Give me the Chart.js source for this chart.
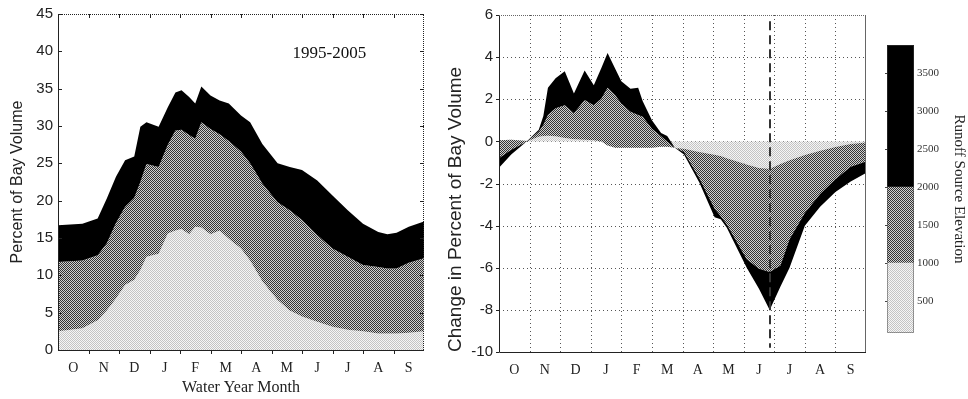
<!DOCTYPE html>
<html>
<head>
<meta charset="utf-8">
<script src="https://cdn.jsdelivr.net/npm/chart.js@4.4.0/dist/chart.umd.min.js"></script>
<style>
  html, body { margin: 0; padding: 0; background: #fff; }
  body { width: 968px; height: 399px; position: relative; overflow: hidden; }
  .panel { position: absolute; top: 0; }
</style>
</head>
<body>
<div class="panel" style="left:0px"><canvas id="volumeChart" width="440" height="399"></canvas></div>
<div class="panel" style="left:430px"><canvas id="changeChart" width="450" height="399"></canvas></div>
<div class="panel" style="left:880px"><canvas id="elevBar" width="88" height="399"></canvas></div>
<script>
const monthLabels = ["O", "N", "D", "J", "F", "M", "A", "M", "J", "J", "A", "S"];

// left panel: percent of bay volume, top edge of each elevation band (cumulative)
const volMonths = [0, 0.8, 1.3, 1.6, 1.9, 2.2, 2.5, 2.7, 2.9, 3.3, 3.6, 3.85, 4.05, 4.3, 4.5, 4.7, 5.0,
  5.3, 5.6, 6.0, 6.3, 6.7, 7.2, 7.6, 8.0, 8.5, 9.0, 9.5, 10.0, 10.5, 10.8, 11.1, 11.5, 12];
const volLow = [2.5, 2.9, 4.0, 5.3, 6.9, 8.7, 9.4, 10.7, 12.5, 12.9, 15.6, 16.0, 16.2, 15.5, 16.5, 16.4, 15.5,
  16.0, 14.9, 13.6, 12.0, 9.2, 6.7, 5.3, 4.5, 3.8, 3.1, 2.7, 2.5, 2.2, 2.2, 2.2, 2.3, 2.5];
const volLowMid = [11.8, 12.0, 12.7, 14.3, 17.0, 19.2, 20.4, 22.5, 24.9, 24.5, 27.5, 29.4, 29.5, 28.8, 28.3, 30.5, 29.6,
  28.9, 28.0, 26.6, 25.0, 22.3, 19.8, 18.7, 17.4, 15.4, 13.6, 12.5, 11.4, 11.1, 10.9, 10.9, 11.7, 12.3];
const volAll = [16.7, 16.9, 17.6, 20.3, 23.2, 25.4, 25.9, 29.9, 30.5, 29.9, 32.5, 34.5, 34.8, 33.9, 33.0, 35.3, 34.1,
  33.4, 33.0, 31.4, 30.5, 27.6, 25.0, 24.5, 24.1, 22.7, 20.7, 18.7, 16.9, 15.8, 15.5, 15.7, 16.5, 17.2];
const periodLabel = "1995-2005";

// right panel: change in percent of bay volume (cumulative from the lowest band)
const chgMonths = [0, 0.4, 0.95, 1.3, 1.45, 1.6, 1.85, 2.15, 2.45, 2.8, 3.1, 3.35, 3.55, 3.8, 4.0, 4.3, 4.55, 4.7,
  5.0, 5.3, 5.5, 5.75, 6.05, 6.55, 7.05, 7.25, 7.45, 8.1, 8.5, 8.85, 9.2, 9.5, 10.0, 10.5, 11.0, 11.5, 12];
const chgLow = [0.05, 0.08, 0.02, 0.22, 0.25, 0.27, 0.24, 0.16, 0.1, 0.08, 0.05, 0.0, -0.2, -0.3, -0.3, -0.3, -0.3, -0.3,
  -0.3, -0.25, -0.25, -0.3, -0.35, -0.5, -0.64, -0.7, -0.8, -1.1, -1.26, -1.3, -1.08, -0.9, -0.65, -0.45, -0.27, -0.13, -0.05];
const chgLowMid = [-0.8, -0.4, 0.02, 0.47, 0.78, 1.25, 1.57, 1.72, 1.33, 1.96, 1.72, 2.04, 2.55, 2.19, 1.8, 1.41, 1.25, 1.17,
  0.6, 0.24, 0.0, -0.3, -0.5, -1.75, -3.2, -3.55, -3.95, -5.6, -6.05, -6.2, -5.9, -4.65, -3.4, -2.5, -1.8, -1.2, -0.95];
const chgAll = [-1.25, -0.62, 0.05, 0.55, 1.2, 2.55, 3.0, 3.33, 2.27, 3.37, 2.66, 3.5, 4.2, 3.45, 2.86, 2.5, 2.55, 1.9,
  1.0, 0.4, 0.25, -0.3, -0.62, -1.95, -3.6, -3.7, -4.1, -6.0, -7.0, -8.0, -6.9, -6.0, -4.0, -3.1, -2.4, -1.9, -1.5];
const peakMonth = 8.85;

// colour bar: runoff source elevation (m)
const elevTicks = [500, 1000, 1500, 2000, 2500, 3000, 3500];
const elevBands = [[80, 1000], [1000, 2000], [2000, 3870]];

const SANS = "'Liberation Sans', Arial, sans-serif";
const SERIF = "'Liberation Serif', 'Times New Roman', serif";
Chart.defaults.color = "#222";
Chart.defaults.font.family = SANS;

// dithered fills like the original
function makePattern(a, b) {
  const c = document.createElement("canvas");
  c.width = 2; c.height = 2;
  const g = c.getContext("2d");
  g.fillStyle = b; g.fillRect(0, 0, 2, 2);
  g.fillStyle = a; g.fillRect(0, 0, 1, 1); g.fillRect(1, 1, 1, 1);
  return g.createPattern(c, "repeat");
}
const lightFill = makePattern("#c4c4c4", "#f6f6f6");
const grayFill = makePattern("#333333", "#d0d0d0");
const darkFill = "#000000";

function pts(xs, ys) {
  return xs.map((m, i) => ({ x: m, y: ys[i] }));
}

function band(data, fill, bg, order) {
  return {
    data: data, fill: fill, backgroundColor: bg, borderWidth: 0,
    pointRadius: 0, tension: 0, order: order
  };
}

function monthAxis(titleText) {
  return {
    type: "linear", min: 0, max: 12,
    afterBuildTicks: s => { s.ticks = monthLabels.map((_, i) => ({ value: i + 0.5 })); },
    afterFit: s => { s.height = titleText ? 49 : 47; },
    grid: { display: false, drawTicks: false },
    border: { display: false },
    ticks: {
      autoSkip: false, maxRotation: 0, padding: 10,
      font: { family: SERIF, size: 14 },
      callback: (v, i) => monthLabels[i]
    },
    title: {
      display: !!titleText, text: titleText,
      font: { family: SERIF, size: 16 }, padding: { top: 0, bottom: 2 }
    }
  };
}

const volumeFrame = {
  id: "volumeFrame",
  afterDraw(chart) {
    const { ctx, chartArea: a, scales: { x, y } } = chart;
    ctx.save();
    ctx.strokeStyle = "#222";
    ctx.lineWidth = 1;
    ctx.beginPath();
    ctx.moveTo(a.left + 0.5, a.top);
    ctx.lineTo(a.left + 0.5, a.bottom + 0.5);
    ctx.lineTo(a.right, a.bottom + 0.5);
    ctx.stroke();
    ctx.setLineDash([1, 1]);
    ctx.beginPath();
    ctx.moveTo(a.left, a.top + 0.5);
    ctx.lineTo(a.right - 0.5, a.top + 0.5);
    ctx.lineTo(a.right - 0.5, a.bottom);
    ctx.stroke();
    ctx.setLineDash([]);
    ctx.beginPath();
    y.ticks.forEach(t => {
      const py = Math.round(y.getPixelForValue(t.value)) + 0.5;
      ctx.moveTo(a.left, py); ctx.lineTo(a.left + 4, py);
      ctx.moveTo(a.right - 4, py); ctx.lineTo(a.right, py);
    });
    for (let k = 1; k < 12; k++) {
      const px = Math.round(x.getPixelForValue(k)) + 0.5;
      ctx.moveTo(px, a.bottom); ctx.lineTo(px, a.bottom + 4);
      ctx.moveTo(px, a.top); ctx.lineTo(px, a.top + 4);
    }
    ctx.stroke();
    // period label
    ctx.fillStyle = "#111";
    ctx.font = "17px " + SERIF;
    ctx.textAlign = "center";
    ctx.textBaseline = "middle";
    ctx.fillText(periodLabel, x.getPixelForValue(8.9), y.getPixelForValue(39.7));
    ctx.restore();
  }
};

const changeGrid = {
  id: "changeGrid",
  beforeDatasetsDraw(chart) {
    const { ctx, chartArea: a, scales: { x, y } } = chart;
    ctx.save();
    ctx.strokeStyle = "#555";
    ctx.lineWidth = 1;
    ctx.setLineDash([1, 3]);
    ctx.beginPath();
    for (let k = 1; k < 12; k++) {
      const px = Math.round(x.getPixelForValue(k)) + 0.5;
      ctx.moveTo(px, a.top); ctx.lineTo(px, a.bottom);
    }
    y.ticks.forEach(t => {
      if (t.value <= y.min || t.value >= y.max) return;
      const py = Math.round(y.getPixelForValue(t.value)) + 0.5;
      ctx.moveTo(a.left, py); ctx.lineTo(a.right, py);
    });
    ctx.stroke();
    ctx.restore();
  },
  afterDraw(chart) {
    const { ctx, chartArea: a, scales: { x, y } } = chart;
    ctx.save();
    // dashed marker
    ctx.strokeStyle = "#333";
    ctx.lineWidth = 2;
    ctx.setLineDash([9, 5]);
    const px = Math.round(x.getPixelForValue(peakMonth));
    ctx.beginPath();
    ctx.moveTo(px, y.getPixelForValue(5.7));
    ctx.lineTo(px, y.getPixelForValue(-9.8));
    ctx.stroke();
    // frame
    ctx.setLineDash([]);
    ctx.lineWidth = 1;
    ctx.strokeStyle = "#222";
    ctx.beginPath();
    ctx.moveTo(a.left + 0.5, a.top);
    ctx.lineTo(a.left + 0.5, a.bottom + 0.5);
    ctx.lineTo(a.right, a.bottom + 0.5);
    y.ticks.forEach(t => {
      const py = Math.round(y.getPixelForValue(t.value)) + 0.5;
      ctx.moveTo(a.left - 3, py); ctx.lineTo(a.left, py);
    });
    ctx.stroke();
    ctx.strokeStyle = "#666";
    ctx.beginPath();
    ctx.moveTo(a.right - 0.5, a.top);
    ctx.lineTo(a.right - 0.5, a.bottom);
    ctx.stroke();
    ctx.setLineDash([1, 1]);
    ctx.beginPath();
    ctx.moveTo(a.left, a.top + 0.5);
    ctx.lineTo(a.right, a.top + 0.5);
    ctx.stroke();
    ctx.restore();
  }
};

const barFrame = {
  id: "barFrame",
  afterDraw(chart) {
    const { ctx, chartArea: a, scales: { y } } = chart;
    ctx.save();
    ctx.strokeStyle = "#444";
    ctx.lineWidth = 1;
    ctx.setLineDash([1, 1]);
    ctx.strokeRect(a.left + 0.5, a.top + 0.5, a.right - a.left - 1, a.bottom - a.top - 1);
    ctx.setLineDash([]);
    ctx.beginPath();
    elevTicks.forEach(v => {
      const py = Math.round(y.getPixelForValue(v)) + 0.5;
      ctx.moveTo(a.left - 2, py); ctx.lineTo(a.left, py);
    });
    ctx.stroke();
    ctx.restore();
  }
};

const common = {
  responsive: false,
  animation: false,
  events: [],
  plugins: { legend: { display: false }, tooltip: { enabled: false } }
};

// left: percent of bay volume by source elevation
new Chart(document.getElementById("volumeChart"), {
  type: "line",
  data: {
    datasets: [
      band(pts(volMonths, volLow), "origin", lightFill, 3),
      band(pts(volMonths, volLowMid), "-1", grayFill, 2),
      band(pts(volMonths, volAll), "-1", darkFill, 1)
    ]
  },
  options: {
    ...common,
    layout: { padding: { top: 13, right: 16, bottom: 0, left: 0 } },
    scales: {
      x: monthAxis("Water Year Month"),
      y: {
        min: 0, max: 45,
        afterFit: s => { s.width = 58; },
        grid: { display: false, drawTicks: false },
        border: { display: false },
        ticks: { stepSize: 5, padding: 5, font: { size: 15 } },
        title: {
          display: true, text: "Percent of Bay Volume",
          font: { size: 16 }, padding: { top: 8, bottom: 0 }
        }
      }
    }
  },
  plugins: [volumeFrame]
});

// right: change in percent of bay volume
new Chart(document.getElementById("changeChart"), {
  type: "line",
  data: {
    datasets: [
      band(pts(chgMonths, chgLow), "origin", lightFill, 3),
      band(pts(chgMonths, chgLowMid), "-1", grayFill, 2),
      band(pts(chgMonths, chgAll), "-1", darkFill, 1)
    ]
  },
  options: {
    ...common,
    layout: { padding: { top: 15, right: 14, bottom: 0, left: 0 } },
    scales: {
      x: monthAxis(""),
      y: {
        min: -10, max: 6,
        afterFit: s => { s.width = 69; },
        grid: { display: false, drawTicks: false },
        border: { display: false },
        ticks: { stepSize: 2, padding: 6, font: { size: 15 } },
        title: {
          display: true, text: "Change in Percent of Bay Volume", align: "start",
          font: { size: 19 }, padding: { top: 14, bottom: 0 }
        }
      }
    }
  },
  plugins: [changeGrid]
});

// colour bar for runoff source elevation
new Chart(document.getElementById("elevBar"), {
  type: "bar",
  data: {
    labels: [""],
    datasets: [
      { data: [elevBands[0]], backgroundColor: lightFill, barPercentage: 1, categoryPercentage: 1 },
      { data: [elevBands[1]], backgroundColor: grayFill, barPercentage: 1, categoryPercentage: 1 },
      { data: [elevBands[2]], backgroundColor: darkFill, barPercentage: 1, categoryPercentage: 1 }
    ]
  },
  options: {
    ...common,
    layout: { padding: { top: 45, right: 0, bottom: 66, left: 7 } },
    scales: {
      x: { display: false, stacked: true },
      y: {
        position: "right",
        min: elevBands[0][0], max: elevBands[2][1],
        afterBuildTicks: s => { s.ticks = elevTicks.map(v => ({ value: v })); },
        afterFit: s => { s.width = 54; },
        grid: { display: false, drawTicks: false },
        border: { display: false },
        ticks: { padding: 3, font: { family: SERIF, size: 11 }, color: "#333", callback: v => String(v) },
        title: {
          display: true, text: "Runoff Source Elevation",
          font: { family: SERIF, size: 15 }, padding: { top: 0, bottom: 2 }
        }
      }
    }
  },
  plugins: [barFrame]
});
</script>
</body>
</html>
